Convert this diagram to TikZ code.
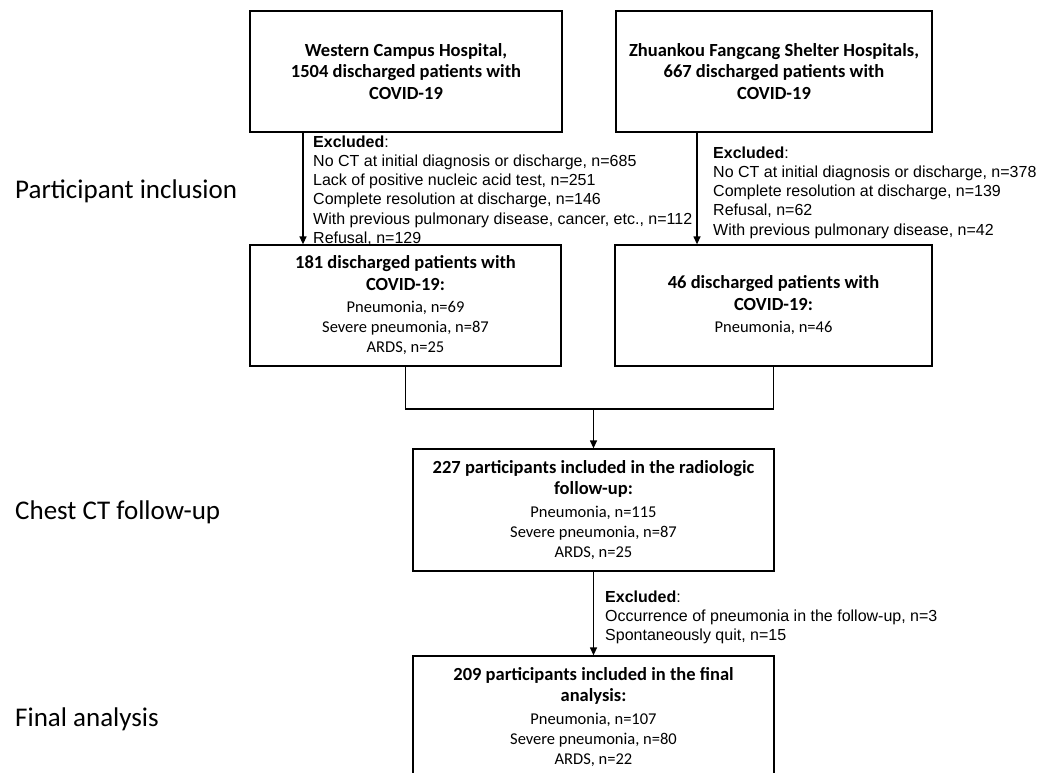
\documentclass[tikz,border=0pt]{standalone}
\usepackage{fontspec}
\usetikzlibrary{arrows.meta,calc}
\newfontfamily\calfont{Carlito}
\newfontfamily\arifont{Liberation Sans}
\newcommand{\bt}{\fontsize{18.5}{21.5}\selectfont\bfseries}
\begin{document}
\begin{tikzpicture}[x=1pt,y=-1pt,
  box/.style={draw, line width=1.3pt, inner sep=0pt, align=center,
    font=\calfont\fontsize{16.5}{20}\selectfont},
  excl/.style={anchor=north west, inner sep=0pt, align=left,
    font=\arifont\fontsize{16}{19.2}\selectfont},
  stage/.style={anchor=base west, inner sep=0pt,
    font=\calfont\fontsize{27}{32}\selectfont},
  conn/.style={line width=1.3pt},
  arr/.style={line width=1.3pt, -{Triangle[length=8pt,width=7pt]}}]
\useasboundingbox (0,0) rectangle (1044,772);
\clip (0,0) rectangle (1044,772);

% boxes
\node[box, minimum width=312pt, minimum height=121pt] (b1) at (406,71.5)
  {{\bt Western Campus Hospital,}\\[1.5pt]{\bt 1504 discharged patients with}\\[1.5pt]{\bt COVID-19}};
\node[box, minimum width=316pt, minimum height=121pt] (b2) at (774,71.5)
  {{\bt Zhuankou Fangcang Shelter Hospitals,}\\[1.5pt]{\bt 667 discharged patients with}\\[1.5pt]{\bt COVID-19}};
\node[box, minimum width=311pt, minimum height=121pt] (b3) at (405.5,305.5)
  {{\bt 181 discharged patients with}\\[1.5pt]{\bt COVID-19:}\\[2.5pt]Pneumonia, n=69\\Severe pneumonia, n=87\\ARDS, n=25};
\node[box, minimum width=317pt, minimum height=121pt] (b4) at (773.5,305.5)
  {{\bt 46 discharged patients with}\\[1.5pt]{\bt COVID-19:}\\[2.5pt]Pneumonia, n=46};
\node[box, minimum width=361pt, minimum height=122pt] (b5) at (593.5,510)
  {{\bt 227 participants included in the radiologic}\\[1.5pt]{\bt follow-up:}\\[2.5pt]Pneumonia, n=115\\Severe pneumonia, n=87\\ARDS, n=25};
\node[box, minimum width=361pt, minimum height=122pt] (b6) at (593.5,717)
  {{\bt 209 participants included in the final}\\[1.5pt]{\bt analysis:}\\[2.5pt]Pneumonia, n=107\\Severe pneumonia, n=80\\ARDS, n=22};

% exclusion texts
\node[excl] (e1) at (313,135.5) {\textbf{Excluded}:\\No CT at initial diagnosis or discharge, n=685\\Lack of positive nucleic acid test, n=251\\Complete resolution at discharge, n=146\\With previous pulmonary disease, cancer, etc., n=112\\Refusal, n=129};
\node[excl] (e2) at (713,146.5) {\textbf{Excluded}:\\No CT at initial diagnosis or discharge, n=378\\Complete resolution at discharge, n=139\\Refusal, n=62\\With previous pulmonary disease, n=42};
\node[excl] (e3) at (605,590.5) {\textbf{Excluded}:\\Occurrence of pneumonia in the follow-up, n=3\\Spontaneously quit, n=15};

% stage labels
\node[stage] (s1) at (15,198) {Participant inclusion};
\node[stage] (s2) at (15,519) {Chest CT follow-up};
\node[stage] (s3) at (15,726) {Final analysis};

% connectors
\coordinate (c1) at (303,0);
\coordinate (c2) at (697,0);
\coordinate (m) at (0,409);
\draw[arr] (b1.south -| c1) -- (b3.north -| c1);
\draw[arr] (b2.south -| c2) -- (b4.north -| c2);
\draw[conn] (b3.south) -- (b3.south |- m) -- (b4.south |- m) -- (b4.south);
\draw[arr] (b5.north |- m) -- (b5.north);
\draw[arr] (b5.south) -- (b6.north);
\end{tikzpicture}
\end{document}
